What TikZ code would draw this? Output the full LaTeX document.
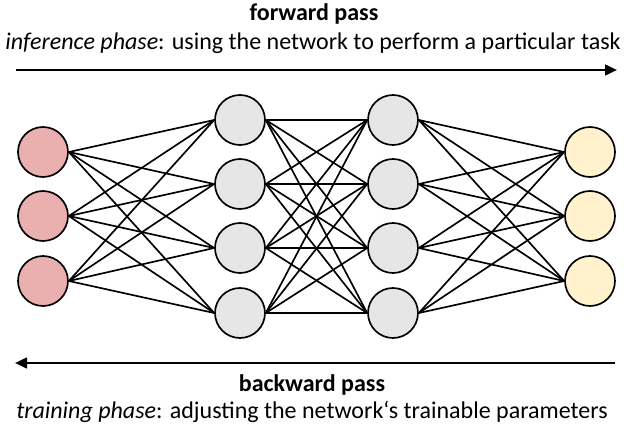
\documentclass[tikz,border=0pt]{standalone}
\usepackage{fontspec}
\setmainfont{Carlito}
\usetikzlibrary{arrows.meta}
\definecolor{inpink}{HTML}{EAB0B0}
\definecolor{hidgray}{HTML}{E6E6E6}
\definecolor{outyellow}{HTML}{FFF2CC}
\begin{document}
\begin{tikzpicture}[x=0.75pt,y=-0.75pt,
  neuron/.style={circle,draw=black,line width=1.25pt,minimum size=37.5pt,inner sep=0pt},
  inneuron/.style={neuron,fill=inpink},
  hidneuron/.style={neuron,fill=hidgray},
  outneuron/.style={neuron,fill=outyellow},
  conn/.style={line width=1.25pt,black},
  passarrow/.style={line width=1.9pt,-{Triangle[length=9pt,width=8pt]}},
  txt/.style={inner sep=0pt,font=\fontsize{18pt}{21pt}\selectfont}]
\useasboundingbox (0,0) rectangle (628,432);
% nodes
\node[inneuron] (i1) at (43,152) {};
\node[inneuron] (i2) at (43,216) {};
\node[inneuron] (i3) at (43,281) {};
\node[hidneuron] (a1) at (240,120) {};
\node[hidneuron] (a2) at (240,184) {};
\node[hidneuron] (a3) at (240,248) {};
\node[hidneuron] (a4) at (240,313) {};
\node[hidneuron] (b1) at (393,120) {};
\node[hidneuron] (b2) at (393,184) {};
\node[hidneuron] (b3) at (393,248) {};
\node[hidneuron] (b4) at (393,313) {};
\node[outneuron] (o1) at (590,152) {};
\node[outneuron] (o2) at (590,216) {};
\node[outneuron] (o3) at (590,281) {};
% connections
\foreach \s in {1,2,3}{\foreach \t in {1,2,3,4}{\draw[conn] (i\s.east) -- (a\t.west);}}
\foreach \s in {1,2,3,4}{\foreach \t in {1,2,3,4}{\draw[conn] (a\s.east) -- (b\t.west);}}
\foreach \s in {1,2,3,4}{\foreach \t in {1,2,3}{\draw[conn] (b\s.east) -- (o\t.west);}}
% arrows
\coordinate (fwdS) at (16,70);
\coordinate (fwdE) at (617,70);
\coordinate (bwdS) at (615,363);
\coordinate (bwdE) at (15,363);
\draw[passarrow] (fwdS) -- (fwdE);
\draw[passarrow] (bwdS) -- (bwdE);
% texts
\node[txt] (fwdtitle) at (314,14) {\textbf{forward pass}};
\node[txt] (fwddesc) at (313,43) {\textit{inference phase}: using the network to perform a particular task};
\node[txt] (bwdtitle) at (312,385) {\textbf{backward pass}};
\node[txt] (bwddesc) at (312,412) {\textit{training phase}: adjusting the network‘s trainable parameters};
\end{tikzpicture}
\end{document}
